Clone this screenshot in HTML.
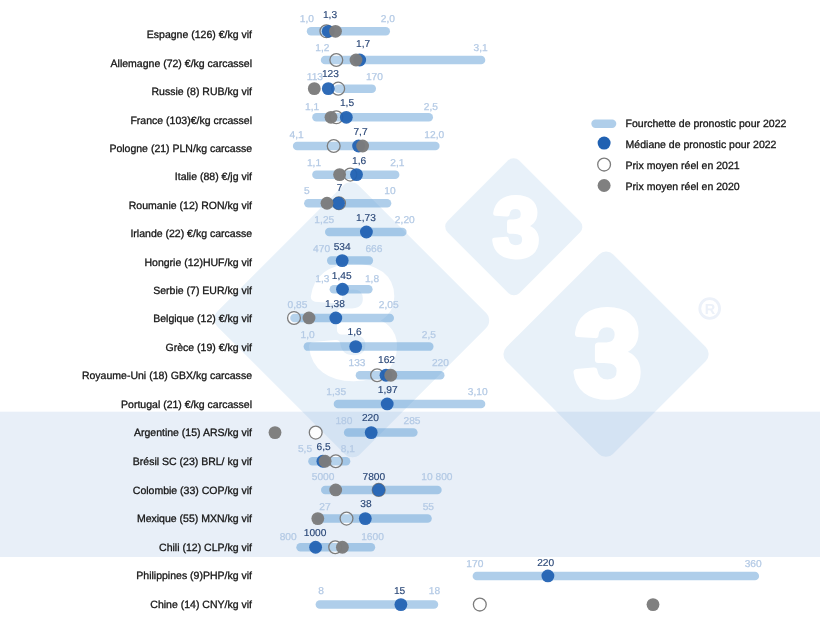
<!DOCTYPE html>
<html lang="fr"><head><meta charset="utf-8"><title>Pronostic prix du porc 2022</title>
<style>
html,body{margin:0;padding:0;background:#fff;}
svg{display:block;font-family:"Liberation Sans",Arial,Helvetica,sans-serif;text-rendering:geometricPrecision;}
.c{font-size:10.53px;fill:#151515;text-anchor:end;stroke:#151515;stroke-width:.3;}
.l{font-size:10px;fill:#b4cae5;text-anchor:middle;stroke:#b4cae5;stroke-width:.25;}
.m{font-size:10px;fill:#2a4777;text-anchor:middle;stroke:#2a4777;stroke-width:.15;}
.lg{font-size:10.53px;fill:#151515;stroke:#151515;stroke-width:.3;}
.bar{fill:#5b9bd5;fill-opacity:.49;}
.blue{fill:#1f60b2;fill-opacity:.93;}
.gray{fill:#7c7c7c;fill-opacity:.97;}
.hol{fill:#fff;fill-opacity:.1;stroke:#7c7c7c;stroke-width:1.3;}
.wm{fill:#5b9bd5;fill-opacity:.137;}
.w3{fill:#fff;stroke:#fff;stroke-linejoin:round;stroke-linecap:round;font-weight:bold;text-anchor:middle;}
</style></head><body>
<svg width="820" height="620" viewBox="0 0 820 620">
<rect width="820" height="620" fill="#fff"/>
<rect x="0" y="411.7" width="820" height="145.3" fill="#e8eff8"/>
<rect class="wm" x="250.8" y="219.9" width="201.9" height="199.7" rx="11" ry="11" transform="rotate(45 351.71 319.74)"/>
<rect class="wm" x="462.8" y="176.0" width="101.9" height="101.4" rx="8" ry="8" transform="rotate(45 513.73 226.73)"/>
<rect class="wm" x="530.6" y="278.6" width="150.8" height="151.2" rx="10" ry="10" transform="rotate(45 606.01 354.24)"/>
<text class="w3" transform="translate(354 375.2) scale(1.035 1)" font-size="153" stroke-width="9">3</text>
<text class="w3" x="516.2" y="256" font-size="84" stroke-width="4.9">3</text>
<text class="w3" x="607.8" y="394.7" font-size="121" stroke-width="7">3</text>
<circle cx="709.7" cy="308.5" r="9.9" fill="none" stroke="#ecf1f9" stroke-width="2.8"/>
<text x="709.9" y="313.7" font-size="14.5" font-weight="bold" fill="#ecf1f9" text-anchor="middle">R</text>
<circle fill="#fff" fill-opacity=".85" cx="326.4" cy="31.30" r="6.42"/>
<circle fill="#fff" fill-opacity=".85" cx="336.3" cy="59.97" r="6.42"/>
<circle fill="#fff" fill-opacity=".85" cx="338.2" cy="88.63" r="6.42"/>
<circle fill="#fff" fill-opacity=".85" cx="336.3" cy="117.30" r="6.42"/>
<circle fill="#fff" fill-opacity=".85" cx="333.7" cy="145.96" r="6.42"/>
<circle fill="#fff" fill-opacity=".85" cx="350.3" cy="174.62" r="6.42"/>
<circle fill="#fff" fill-opacity=".85" cx="339" cy="203.29" r="6.42"/>
<circle fill="#fff" fill-opacity=".85" cx="294" cy="317.95" r="6.42"/>
<circle fill="#fff" fill-opacity=".85" cx="377.1" cy="375.28" r="6.42"/>
<circle fill="#fff" fill-opacity=".85" cx="315.7" cy="432.61" r="6.42"/>
<circle fill="#fff" fill-opacity=".85" cx="335.8" cy="461.27" r="6.42"/>
<circle fill="#fff" fill-opacity=".85" cx="378.7" cy="489.94" r="6.42"/>
<circle fill="#fff" fill-opacity=".85" cx="346.5" cy="518.61" r="6.42"/>
<circle fill="#fff" fill-opacity=".85" cx="335.2" cy="547.27" r="6.42"/>
<circle fill="#fff" fill-opacity=".85" cx="479.8" cy="604.60" r="6.42"/>
<text class="c" x="252" y="38.2">Espagne (126) €/kg vif</text>
<rect class="bar" x="306.8" y="27.05" width="83.2" height="8.5" rx="4.25"/>
<text class="l" transform="translate(306.8 21.7) scale(1.02 1)">1,0</text>
<text class="m" transform="translate(330 18.2) scale(1.02 1)">1,3</text>
<text class="l" transform="translate(387.9 21.7) scale(1.02 1)">2,0</text>
<circle class="hol" cx="326.4" cy="31.30" r="6.42"/>
<circle class="blue" cx="328.3" cy="31.30" r="6.42"/>
<circle class="gray" cx="335.5" cy="31.30" r="6.42"/>
<text class="c" x="252" y="66.7">Allemagne (72) €/kg carcassel</text>
<rect class="bar" x="320.8" y="55.72" width="164.5" height="8.5" rx="4.25"/>
<text class="l" transform="translate(322.4 51.2) scale(1.02 1)">1,2</text>
<text class="m" transform="translate(363.2 47.4) scale(1.02 1)">1,7</text>
<text class="l" transform="translate(480.7 51.2) scale(1.02 1)">3,1</text>
<circle class="hol" cx="336.3" cy="59.97" r="6.42"/>
<circle class="blue" cx="359.7" cy="59.97" r="6.42"/>
<circle class="gray" cx="356" cy="59.97" r="6.42"/>
<text class="c" x="252" y="95.2">Russie (8) RUB/kg vif</text>
<rect class="bar" x="334" y="84.38" width="42.0" height="8.5" rx="4.25"/>
<text class="l" transform="translate(314.9 80.2) scale(1.02 1)">113</text>
<text class="m" transform="translate(330.4 77.0) scale(1.02 1)">123</text>
<text class="l" transform="translate(374.4 80.2) scale(1.02 1)">170</text>
<circle class="hol" cx="338.2" cy="88.63" r="6.42"/>
<circle class="blue" cx="328.3" cy="88.63" r="6.42"/>
<circle class="gray" cx="314.3" cy="88.63" r="6.42"/>
<text class="c" x="252" y="123.6">France (103)€/kg crcassel</text>
<rect class="bar" x="312.2" y="113.05" width="120.8" height="8.5" rx="4.25"/>
<text class="l" transform="translate(312.2 109.7) scale(1.02 1)">1,1</text>
<text class="m" transform="translate(347 106.2) scale(1.02 1)">1,5</text>
<text class="l" transform="translate(430.8 109.7) scale(1.02 1)">2,5</text>
<circle class="hol" cx="336.3" cy="117.30" r="6.42"/>
<circle class="blue" cx="346.3" cy="117.30" r="6.42"/>
<circle class="gray" cx="331" cy="117.30" r="6.42"/>
<text class="c" x="252" y="152.1">Pologne (21) PLN/kg carcasse</text>
<rect class="bar" x="292.9" y="141.71" width="146.7" height="8.5" rx="4.25"/>
<text class="l" transform="translate(296.6 138.1) scale(1.02 1)">4,1</text>
<text class="m" transform="translate(360.5 134.5) scale(1.02 1)">7,7</text>
<text class="l" transform="translate(434.3 138.1) scale(1.02 1)">12,0</text>
<circle class="hol" cx="333.7" cy="145.96" r="6.42"/>
<circle class="blue" cx="358.6" cy="145.96" r="6.42"/>
<circle class="gray" cx="362.6" cy="145.96" r="6.42"/>
<text class="c" x="252" y="180.1">Italie (88) €/jg vif</text>
<rect class="bar" x="312.2" y="170.38" width="87.2" height="8.5" rx="4.25"/>
<text class="l" transform="translate(314 166.3) scale(1.02 1)">1,1</text>
<text class="m" transform="translate(359.2 163.8) scale(1.02 1)">1,6</text>
<text class="l" transform="translate(397.3 166.3) scale(1.02 1)">2,1</text>
<circle class="hol" cx="350.3" cy="174.62" r="6.42"/>
<circle class="blue" cx="356.5" cy="174.62" r="6.42"/>
<circle class="gray" cx="339.6" cy="174.62" r="6.42"/>
<text class="c" x="252" y="208.6">Roumanie (12) RON/kg vif</text>
<rect class="bar" x="304.1" y="199.04" width="87.2" height="8.5" rx="4.25"/>
<text class="l" transform="translate(306.8 194.4) scale(1.02 1)">5</text>
<text class="m" transform="translate(339.6 191.4) scale(1.02 1)">7</text>
<text class="l" transform="translate(390 194.4) scale(1.02 1)">10</text>
<circle class="hol" cx="339" cy="203.29" r="6.42"/>
<circle class="blue" cx="338.5" cy="203.29" r="6.42"/>
<circle class="gray" cx="327" cy="203.29" r="6.42"/>
<text class="c" x="252" y="237.0">Irlande (22) €/kg carcasse</text>
<rect class="bar" x="325" y="227.71" width="81.6" height="8.5" rx="4.25"/>
<text class="l" transform="translate(324.3 223.1) scale(1.02 1)">1,25</text>
<text class="m" transform="translate(365.9 220.7) scale(1.02 1)">1,73</text>
<text class="l" transform="translate(404.8 223.1) scale(1.02 1)">2,20</text>
<circle class="blue" cx="366.4" cy="231.96" r="6.42"/>
<text class="c" x="252" y="265.5">Hongrie (12)HUF/kg vif</text>
<rect class="bar" x="327" y="256.37" width="46.1" height="8.5" rx="4.25"/>
<text class="l" transform="translate(321.6 252.3) scale(1.02 1)">470</text>
<text class="m" transform="translate(342.2 249.5) scale(1.02 1)">534</text>
<text class="l" transform="translate(373.9 252.3) scale(1.02 1)">666</text>
<circle class="blue" cx="342.2" cy="260.62" r="6.42"/>
<text class="c" x="252" y="294.0">Serbie (7) EUR/kg vif</text>
<rect class="bar" x="329.6" y="285.04" width="43.0" height="8.5" rx="4.25"/>
<text class="l" transform="translate(322.4 281.8) scale(1.02 1)">1,3</text>
<text class="m" transform="translate(341.7 279.0) scale(1.02 1)">1,45</text>
<text class="l" transform="translate(372 281.8) scale(1.02 1)">1,8</text>
<circle class="blue" cx="342.5" cy="289.29" r="6.42"/>
<text class="c" x="252" y="322.4">Belgique (12) €/kg vif</text>
<rect class="bar" x="290.2" y="313.70" width="103.8" height="8.5" rx="4.25"/>
<text class="l" transform="translate(297.4 307.5) scale(1.02 1)">0,85</text>
<text class="m" transform="translate(335 307.2) scale(1.02 1)">1,38</text>
<text class="l" transform="translate(388.7 307.5) scale(1.02 1)">2,05</text>
<circle class="hol" cx="294" cy="317.95" r="6.42"/>
<circle class="blue" cx="335.8" cy="317.95" r="6.42"/>
<circle class="gray" cx="309" cy="317.95" r="6.42"/>
<text class="c" x="252" y="350.9">Grèce (19) €/kg vif</text>
<rect class="bar" x="303.6" y="342.37" width="129.9" height="8.5" rx="4.25"/>
<text class="l" transform="translate(307.6 337.6) scale(1.02 1)">1,0</text>
<text class="m" transform="translate(354.6 335.1) scale(1.02 1)">1,6</text>
<text class="l" transform="translate(428.9 337.6) scale(1.02 1)">2,5</text>
<circle class="blue" cx="355.7" cy="346.62" r="6.42"/>
<text class="c" x="252" y="379.4">Royaume-Uni (18) GBX/kg carcasse</text>
<rect class="bar" x="355.7" y="371.03" width="88.8" height="8.5" rx="4.25"/>
<text class="l" transform="translate(357 365.9) scale(1.02 1)">133</text>
<text class="m" transform="translate(386.5 363.2) scale(1.02 1)">162</text>
<text class="l" transform="translate(440.4 365.9) scale(1.02 1)">220</text>
<circle class="hol" cx="377.1" cy="375.28" r="6.42"/>
<circle class="blue" cx="386" cy="375.28" r="6.42"/>
<circle class="gray" cx="390.8" cy="375.28" r="6.42"/>
<text class="c" x="252" y="407.9">Portugal (21) €/kg carcassel</text>
<rect class="bar" x="333.7" y="399.69" width="151.6" height="8.5" rx="4.25"/>
<text class="l" transform="translate(336.2 394.6) scale(1.02 1)">1,35</text>
<text class="m" transform="translate(387.7 393.0) scale(1.02 1)">1,97</text>
<text class="l" transform="translate(477.7 394.6) scale(1.02 1)">3,10</text>
<circle class="blue" cx="387.2" cy="403.94" r="6.42"/>
<text class="c" x="252" y="436.4">Argentine (15) ARS/kg vif</text>
<rect class="bar" x="343.9" y="428.36" width="73.7" height="8.5" rx="4.25"/>
<text class="l" transform="translate(343.9 423.6) scale(1.02 1)">180</text>
<text class="m" transform="translate(370.4 421.4) scale(1.02 1)">220</text>
<text class="l" transform="translate(412 423.6) scale(1.02 1)">285</text>
<circle class="hol" cx="315.7" cy="432.61" r="6.42"/>
<circle class="blue" cx="371.2" cy="432.61" r="6.42"/>
<circle class="gray" cx="275" cy="432.61" r="6.42"/>
<text class="c" x="252" y="464.8">Brésil SC (23) BRL/ kg vif</text>
<rect class="bar" x="308.2" y="457.02" width="42.1" height="8.5" rx="4.25"/>
<text class="l" transform="translate(305 452.0) scale(1.02 1)">5,5</text>
<text class="m" transform="translate(323.7 449.6) scale(1.02 1)">6,5</text>
<text class="l" transform="translate(347.9 452.0) scale(1.02 1)">8,1</text>
<circle class="hol" cx="335.8" cy="461.27" r="6.42"/>
<circle class="blue" cx="322.9" cy="461.27" r="6.42"/>
<circle class="gray" cx="325.1" cy="461.27" r="6.42"/>
<text class="c" x="252" y="493.8">Colombie (33) COP/kg vif</text>
<rect class="bar" x="321" y="485.69" width="120.7" height="8.5" rx="4.25"/>
<text class="l" transform="translate(323.1 480.4) scale(1.02 1)">5000</text>
<text class="m" transform="translate(373.8 480.1) scale(1.02 1)">7800</text>
<text class="l" transform="translate(436.9 480.4) scale(1.02 1)">10 800</text>
<circle class="hol" cx="378.7" cy="489.94" r="6.42"/>
<circle class="blue" cx="378.7" cy="489.94" r="6.42"/>
<circle class="gray" cx="335.7" cy="489.94" r="6.42"/>
<text class="c" x="252" y="522.3">Mexique (55) MXN/kg vif</text>
<rect class="bar" x="314" y="514.36" width="117.8" height="8.5" rx="4.25"/>
<text class="l" transform="translate(325 509.9) scale(1.02 1)">27</text>
<text class="m" transform="translate(366 506.9) scale(1.02 1)">38</text>
<text class="l" transform="translate(428.3 509.9) scale(1.02 1)">55</text>
<circle class="hol" cx="346.5" cy="518.61" r="6.42"/>
<circle class="blue" cx="365.3" cy="518.61" r="6.42"/>
<circle class="gray" cx="317.8" cy="518.61" r="6.42"/>
<text class="c" x="252" y="550.8">Chili (12) CLP/kg vif</text>
<rect class="bar" x="296.3" y="543.02" width="78.9" height="8.5" rx="4.25"/>
<text class="l" transform="translate(288.2 540.2) scale(1.02 1)">800</text>
<text class="m" transform="translate(315.1 536.4) scale(1.02 1)">1000</text>
<text class="l" transform="translate(372.5 540.2) scale(1.02 1)">1600</text>
<circle class="hol" cx="335.2" cy="547.27" r="6.42"/>
<circle class="blue" cx="315.6" cy="547.27" r="6.42"/>
<circle class="gray" cx="342.4" cy="547.27" r="6.42"/>
<text class="c" x="252" y="579.2">Philippines (9)PHP/kg vif</text>
<rect class="bar" x="472.6" y="571.68" width="286.5" height="8.5" rx="4.25"/>
<text class="l" transform="translate(474.8 566.8) scale(1.02 1)">170</text>
<text class="m" transform="translate(545.7 565.6) scale(1.02 1)">220</text>
<text class="l" transform="translate(753.2 566.8) scale(1.02 1)">360</text>
<circle class="blue" cx="547.9" cy="575.93" r="6.42"/>
<text class="c" x="252" y="607.7">Chine (14) CNY/kg vif</text>
<rect class="bar" x="315.6" y="600.35" width="122.6" height="8.5" rx="4.25"/>
<text class="l" transform="translate(321 594.4) scale(1.02 1)">8</text>
<text class="m" transform="translate(399.6 593.6) scale(1.02 1)">15</text>
<text class="l" transform="translate(434.5 594.4) scale(1.02 1)">18</text>
<circle class="hol" cx="479.8" cy="604.60" r="6.42"/>
<circle class="blue" cx="400.9" cy="604.60" r="6.42"/>
<circle class="gray" cx="653" cy="604.60" r="6.42"/>
<rect class="bar" x="591.3" y="119.6" width="25" height="8.4" rx="4.2"/>
<text class="lg" x="625.6" y="127">Fourchette de pronostic pour 2022</text>
<circle fill="#2061b2" cx="604.1" cy="143.1" r="6.5"/>
<text class="lg" x="625.6" y="147.9">Médiane de pronostic pour 2022</text>
<circle cx="604.1" cy="164.6" r="6.4" fill="#fff" stroke="#7c7c7c" stroke-width="1.3"/>
<text class="lg" x="625.6" y="168.9">Prix moyen réel en 2021</text>
<circle fill="#808080" cx="604.1" cy="185.5" r="6.5"/>
<text class="lg" x="625.6" y="189.5">Prix moyen réel en 2020</text>
</svg>
</body></html>
